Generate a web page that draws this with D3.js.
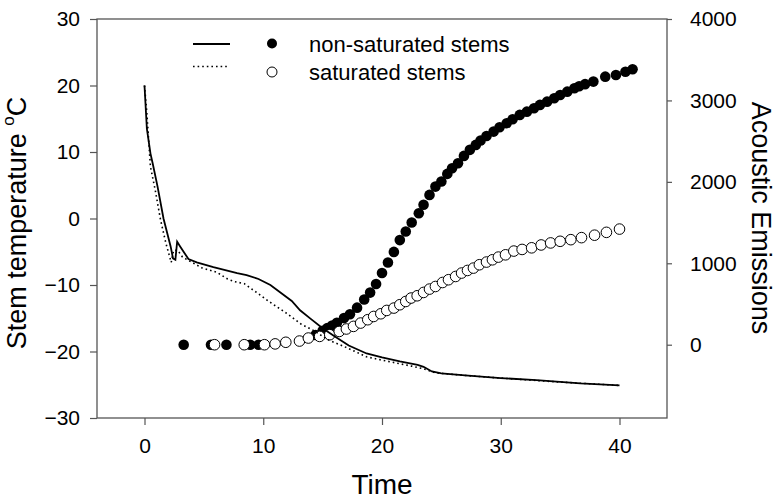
<!DOCTYPE html>
<html>
<head>
<meta charset="utf-8">
<script src="https://cdn.jsdelivr.net/npm/d3@7"></script>
<style>
  body { margin: 0; background: #fff; }
  svg text { font-family: "Liberation Sans", Arial, sans-serif; fill: #000; }
</style>
</head>
<body>
<svg width="778" height="501"></svg>
<script>
// stem temperature, non-saturated (solid line)
const nonSatTime = [0, 0.2, 0.5, 0.7, 1.1, 1.6, 2.2, 2.4, 2.6, 2.75, 3.0, 3.7, 4.4, 5.8, 7.8, 8.6, 9.6, 10.6, 11.5, 12.4, 13.1, 14.0, 15.0, 16.0, 17.2, 18.7, 20.0, 21.5, 23.0, 23.5, 24.2, 25.0, 27.0, 30.0, 33.0, 36.7, 40.0]
const nonSatTemp = [20, 13.5, 9.8, 8.2, 4.8, 0, -4.2, -6.0, -6.2, -3.5, -4.2, -6.1, -6.6, -7.3, -8.2, -8.5, -9.1, -10, -11.2, -12.4, -13.8, -15.1, -16.5, -17.7, -19.1, -20.3, -20.9, -21.5, -22.0, -22.3, -23.0, -23.3, -23.6, -24.0, -24.3, -24.8, -25.1]

// stem temperature, saturated (dotted line)
const satTime = [0, 0.2, 0.5, 0.9, 1.35, 1.8, 2.25, 2.45, 2.8, 3.2, 3.9, 4.8, 6.1, 7.0, 7.6, 8.4, 9.5, 10.5, 12.0, 13.2, 14.3, 15.4, 17.0, 18.7, 20.0, 22.5, 23.5, 24.5, 27.0, 30.0, 35.0, 40.0]
const satTemp = [20, 15.8, 7.8, 4.3, -0.2, -3.7, -6.6, -4.8, -4.8, -5.8, -6.5, -7.4, -8.1, -9.1, -9.5, -9.8, -11.2, -12.5, -14.3, -15.9, -16.9, -18.2, -19.4, -20.8, -21.3, -22.2, -22.6, -23.2, -23.6, -24.0, -24.6, -25.1]

// acoustic emissions, non-saturated (filled circles)
const nonSatAETime = [3.3, 5.6, 6.9, 8.9, 9.6, 14.4, 15.0, 15.4, 15.8, 16.2, 16.8, 17.3, 17.9, 18.5, 19.0, 19.5, 20.0, 20.5, 21.0, 21.5, 22.0, 22.5, 23.1, 23.5, 24.0, 24.5, 25.0, 25.5, 25.9, 26.4, 26.9, 27.4, 27.9, 28.3, 28.8, 29.4, 29.9, 30.5, 31.0, 31.6, 32.2, 32.8, 33.3, 33.9, 34.5, 35.0, 35.6, 36.2, 36.6, 37.1, 37.8, 38.8, 39.7, 40.5, 41.1]
const nonSatAE = [0, 0, 0, 0, 0, 120, 170, 205, 235, 270, 327, 375, 455, 555, 640, 745, 880, 1010, 1140, 1285, 1390, 1500, 1615, 1718, 1840, 1942, 2004, 2098, 2168, 2229, 2319, 2393, 2454, 2507, 2564, 2617, 2671, 2720, 2769, 2822, 2862, 2904, 2945, 2985, 3027, 3067, 3108, 3150, 3175, 3200, 3231, 3292, 3313, 3353, 3383]

// acoustic emissions, saturated (open circles)
const satAETime = [5.9, 8.4, 10.1, 11.0, 11.9, 13.05, 13.8, 14.75, 15.6, 16.4, 17.0, 17.6, 18.2, 18.8, 19.3, 19.9, 20.4, 21.0, 21.5, 22.0, 22.45, 22.96, 23.5, 24.0, 24.5, 25.1, 25.6, 26.2, 26.7, 27.2, 27.7, 28.2, 28.8, 29.3, 29.8, 30.4, 31.1, 31.8, 32.6, 33.4, 34.2, 35.0, 35.9, 36.8, 37.9, 38.9, 40.0]
const satAE = [0, 0, 0, 10, 30, 45, 82, 102, 123, 163, 193, 225, 266, 307, 347, 380, 421, 450, 491, 531, 573, 601, 642, 683, 715, 764, 798, 838, 880, 912, 941, 982, 1015, 1043, 1076, 1104, 1150, 1170, 1190, 1225, 1250, 1270, 1290, 1315, 1345, 1380, 1420]

const xTicks = [0, 10, 20, 30, 40]
const tempTicks = [-30, -20, -10, 0, 10, 20, 30]
const aeTicks = [0, 1000, 2000, 3000, 4000]

const plot = {left: 97, right: 667, top: 19, bottom: 418}
const svg = d3.select("svg")

const x = d3.scaleLinear().domain([-4, 44]).range([plot.left, plot.right])
const yT = d3.scaleLinear().domain([-30, 30]).range([plot.bottom, plot.top])
const yAE = d3.scaleLinear().domain([-900, 4000]).range([plot.bottom, plot.top])

// axes
const axisColor = "#555"
function styleAxis(g, size) {
    g.select(".domain").remove()
    g.selectAll(".tick line").attr("stroke", axisColor).attr("stroke-width", 1.2)
    g.selectAll(".tick text").attr("font-size", size).attr("font-family", "Liberation Sans, Arial, sans-serif").attr("fill", "#000")
}

svg.append("g")
    .attr("transform", `translate(0, ${plot.bottom})`)
    .call(d3.axisBottom(x).tickValues(xTicks).tickSize(7).tickPadding(13).tickFormat(d3.format("d")))
    .call(g => styleAxis(g, "21px"))

svg.append("g")
    .attr("transform", `translate(${plot.left}, 0)`)
    .call(d3.axisLeft(yT).tickValues(tempTicks).tickSize(7).tickPadding(10).tickFormat(d3.format("d")))
    .call(g => styleAxis(g, "21px"))

svg.append("g")
    .attr("transform", `translate(${plot.right}, 0)`)
    .call(d3.axisRight(yAE).tickValues(aeTicks).tickSize(5).tickPadding(18).tickFormat(d3.format("d")))
    .call(g => styleAxis(g, "21px"))

// frame
svg.append("rect")
    .attr("x", plot.left).attr("y", plot.top)
    .attr("width", plot.right - plot.left).attr("height", plot.bottom - plot.top)
    .attr("fill", "none").attr("stroke", axisColor).attr("stroke-width", 1.3)

// points
const filled = nonSatAETime.map((t, i) => ({t: t, ae: nonSatAE[i]}))
const open = satAETime.map((t, i) => ({t: t, ae: satAE[i]}))

svg.append("g").selectAll("circle").data(filled).enter().append("circle")
    .attr("cx", d => x(d.t)).attr("cy", d => yAE(d.ae)).attr("r", 5.3)
    .attr("fill", "#000")

svg.append("g").selectAll("circle").data(open).enter().append("circle")
    .attr("cx", d => x(d.t)).attr("cy", d => yAE(d.ae)).attr("r", 5.3)
    .attr("fill", "#fff").attr("stroke", "#000").attr("stroke-width", 1)

// temperature lines
const line = d3.line().x(d => x(d[0])).y(d => yT(d[1]))

svg.append("path")
    .datum(satTime.map((t, i) => [t, satTemp[i]]))
    .attr("d", line)
    .attr("fill", "none").attr("stroke", "#000").attr("stroke-width", 1.6)
    .attr("stroke-dasharray", "1.6,3")

svg.append("path")
    .datum(nonSatTime.map((t, i) => [t, nonSatTemp[i]]))
    .attr("d", line)
    .attr("fill", "none").attr("stroke", "#000").attr("stroke-width", 1.8)

// legend
const lg = svg.append("g")
lg.append("line").attr("x1", 193).attr("x2", 230).attr("y1", 44).attr("y2", 44)
    .attr("stroke", "#000").attr("stroke-width", 1.8)
lg.append("line").attr("x1", 193).attr("x2", 228).attr("y1", 66.5).attr("y2", 66.5)
    .attr("stroke", "#000").attr("stroke-width", 1.6).attr("stroke-dasharray", "1.6,3")
lg.append("circle").attr("cx", 272).attr("cy", 43.5).attr("r", 5).attr("fill", "#000")
lg.append("circle").attr("cx", 272).attr("cy", 72).attr("r", 5)
    .attr("fill", "#fff").attr("stroke", "#000").attr("stroke-width", 1)
lg.append("text").attr("x", 309).attr("y", 52).attr("font-size", "22px").text("non-saturated stems")
lg.append("text").attr("x", 309).attr("y", 80).attr("font-size", "22px").text("saturated stems")

// axis titles
svg.append("text")
    .attr("x", (plot.left + plot.right) / 2).attr("y", 494)
    .attr("font-size", "28px").attr("text-anchor", "middle")
    .text("Time")

const yTitle = svg.append("text")
    .attr("transform", `translate(26, 223) rotate(-90)`)
    .attr("font-size", "27px").attr("text-anchor", "middle")
yTitle.append("tspan").text("Stem temperature ")
yTitle.append("tspan").attr("font-size", "17px").attr("dy", -12).text("o")
yTitle.append("tspan").attr("dy", 12).text("C")

svg.append("text")
    .attr("transform", `translate(752, 218) rotate(90)`)
    .attr("font-size", "27px").attr("text-anchor", "middle")
    .text("Acoustic Emissions")
</script>
</body>
</html>
